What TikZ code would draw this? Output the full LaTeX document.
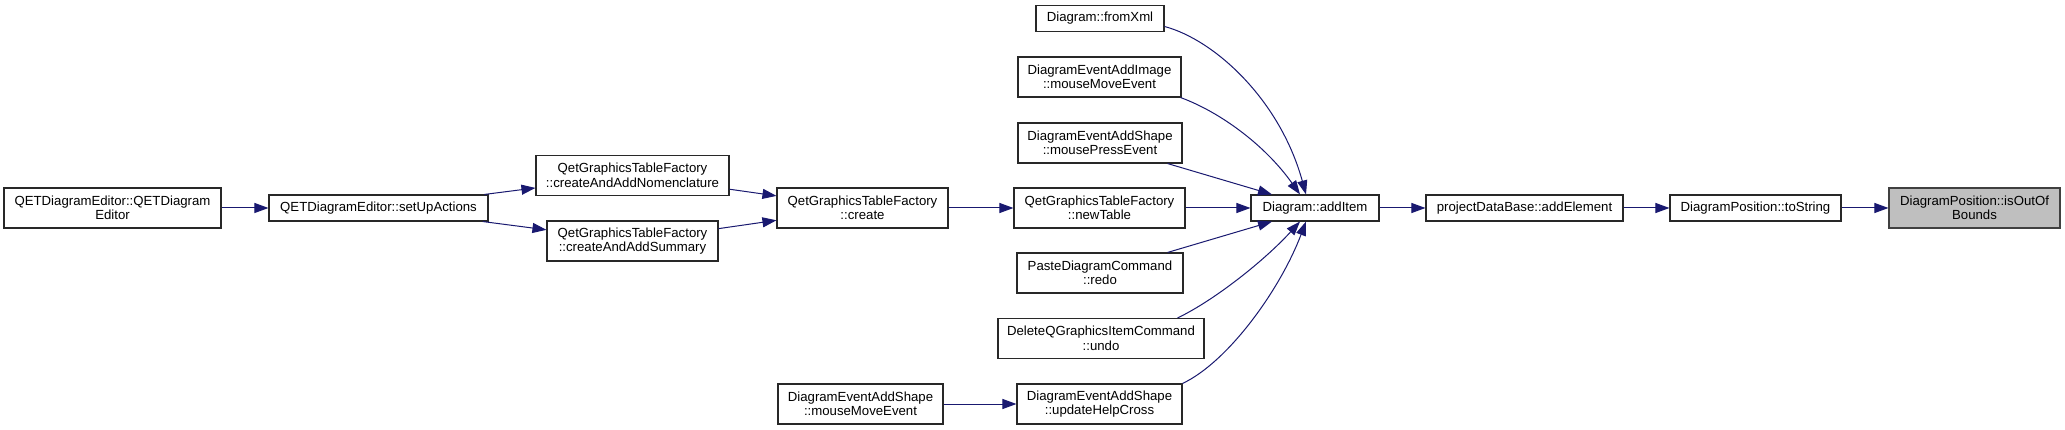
\documentclass[tikz,border=0pt]{standalone}
\usepackage{fontspec}
\setmainfont{Liberation Sans}
\usetikzlibrary{arrows.meta}
\definecolor{edgecol}{RGB}{25,25,112}
\definecolor{grayfill}{RGB}{191,191,191}
\definecolor{grayline}{RGB}{64,64,64}
\definecolor{boxline}{RGB}{40,40,40}
\begin{document}
\begin{tikzpicture}[x=1pt,y=-1pt,
  box/.style={draw=boxline, line width=1.1pt, fill=white, inner sep=0pt, align=center,
    font=\fontsize{13.2}{14.5}\selectfont, text=black},
  call/.style={draw=edgecol, line width=1pt, -{Triangle[length=14pt,width=10pt,fill=edgecol]}},
]
\useasboundingbox (0,0) rectangle (2065,430);
\fill[white] (0,0) rectangle (2065,430);

\node[box, minimum width=217pt, minimum height=40pt] (A) at (112.5,208) {QETDiagramEditor::QETDiagram\\Editor};
\node[box, minimum width=219pt, minimum height=26pt] (B) at (378.5,208) {QETDiagramEditor::setUpActions};
\node[box, minimum width=193pt, minimum height=40pt] (C) at (632.5,175.5) {QetGraphicsTableFactory\\::createAndAddNomenclature};
\node[box, minimum width=171pt, minimum height=40pt] (D) at (632.5,241) {QetGraphicsTableFactory\\::createAndAddSummary};
\node[box, minimum width=171pt, minimum height=40pt] (E) at (862.5,208) {QetGraphicsTableFactory\\::create};
\node[box, minimum width=165pt, minimum height=40pt] (F) at (860.5,404) {DiagramEventAddShape\\::mouseMoveEvent};
\node[box, minimum width=128pt, minimum height=26pt] (G) at (1100,18.5) {Diagram::fromXml};
\node[box, minimum width=163pt, minimum height=40pt] (H) at (1099.5,77) {DiagramEventAddImage\\::mouseMoveEvent};
\node[box, minimum width=164pt, minimum height=40pt] (I) at (1100,143) {DiagramEventAddShape\\::mousePressEvent};
\node[box, minimum width=171pt, minimum height=40pt] (J) at (1099.5,208) {QetGraphicsTableFactory\\::newTable};
\node[box, minimum width=166pt, minimum height=40pt] (K) at (1100,273) {PasteDiagramCommand\\::redo};
\node[box, minimum width=206pt, minimum height=40pt] (L) at (1101,338.5) {DeleteQGraphicsItemCommand\\::undo};
\node[box, minimum width=165pt, minimum height=40pt] (M) at (1099.5,404) {DiagramEventAddShape\\::updateHelpCross};
\node[box, minimum width=128pt, minimum height=26pt] (N) at (1315,208) {Diagram::addItem};
\node[box, minimum width=197pt, minimum height=26pt] (O) at (1524.5,208) {projectDataBase::addElement};
\node[box, minimum width=171pt, minimum height=26pt] (P) at (1755.5,208) {DiagramPosition::toString};
\node[box, draw=grayline, fill=grayfill, minimum width=171pt, minimum height=40pt] (Q) at (1974.5,208) {DiagramPosition::isOutOf\\Bounds};

\draw[call] (A) -- (B);
\draw[call] (B) -- (C);
\draw[call] (B) -- (D);
\draw[call] (C) -- (E);
\draw[call] (D) -- (E);
\draw[call] (E) -- (J);
\draw[call] (F) -- (M);
\draw[call] ([yshift=-8pt]G.east) .. controls (1215,40) and (1280,100) .. ([xshift=-9pt]N.north);
\draw[call] ([xshift=-1pt]H.south east) .. controls (1220,112) and (1265,145) .. ([xshift=-15pt]N.north);
\draw[call] ([xshift=-15pt]I.south east) -- ([xshift=-43pt]N.north);
\draw[call] (J) -- (N);
\draw[call] ([xshift=-16pt]K.north east) -- ([xshift=-43pt]N.south);
\draw[call] ([xshift=-27pt]L.north east) .. controls (1215,300) and (1265,260) .. ([xshift=-15pt]N.south);
\draw[call] (M.north east) .. controls (1228,362) and (1280,290) .. ([xshift=-9pt]N.south);
\draw[call] (N) -- (O);
\draw[call] (O) -- (P);
\draw[call] (P) -- (Q);
\end{tikzpicture}
\end{document}
